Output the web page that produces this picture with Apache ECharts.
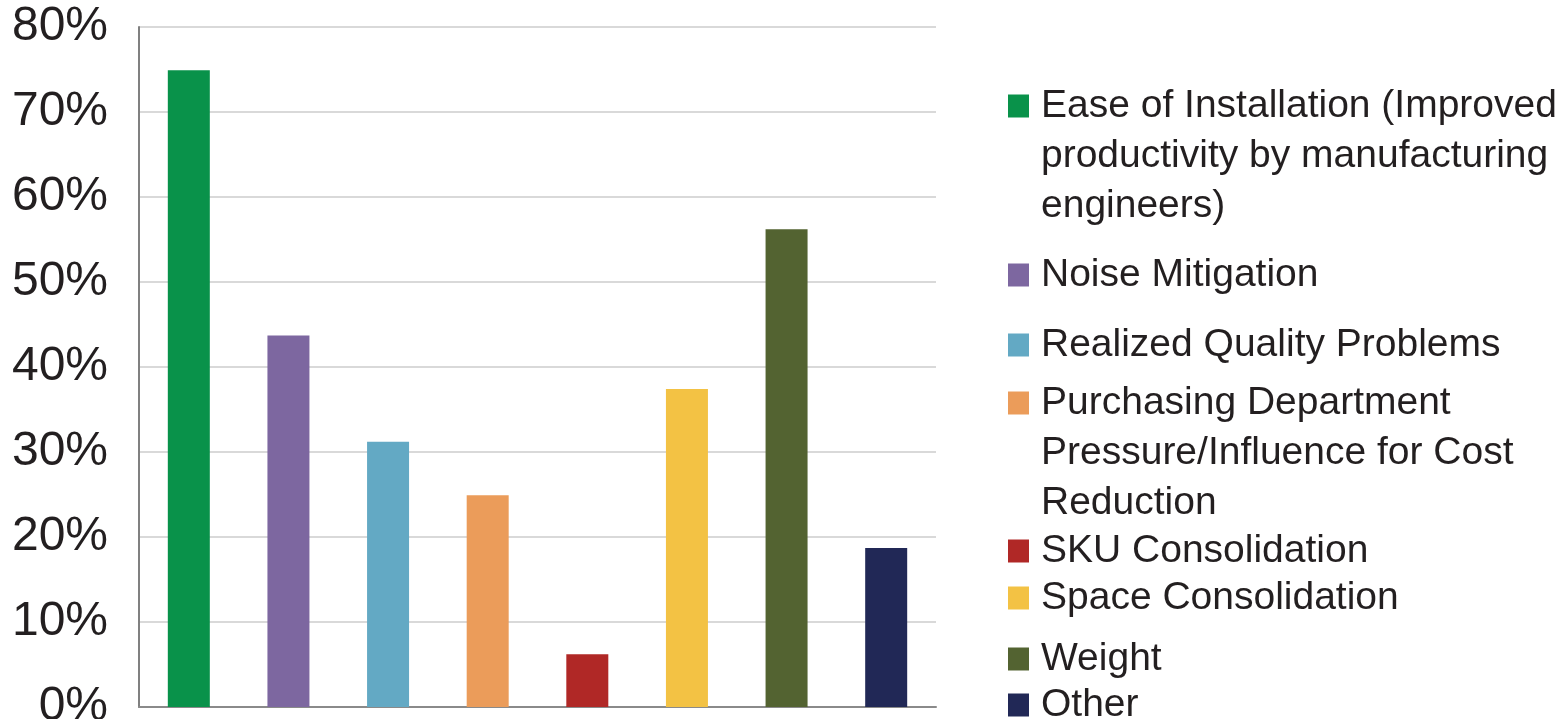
<!DOCTYPE html>
<html>
<head>
<meta charset="utf-8">
<script src="https://cdn.jsdelivr.net/npm/echarts@6/dist/echarts.min.js"></script>
<style>
  html, body { margin: 0; padding: 0; background: #fff; }
  #chart { width: 1561px; height: 719px; }
</style>
</head>
<body>
<div id="chart"></div>
<script>
// categories (legend names) and their values in percent
const names = [
  'Ease of Installation (Improved productivity by manufacturing engineers)',
  'Noise Mitigation',
  'Realized Quality Problems',
  'Purchasing Department Pressure/Influence for Cost Reduction',
  'SKU Consolidation',
  'Space Consolidation',
  'Weight',
  'Other'
];
const values = [74.9, 43.7, 31.2, 24.9, 6.2, 37.4, 56.2, 18.7];
const colors = ['#09924a', '#7d67a0', '#63a9c4', '#eb9c5a', '#b02826', '#f3c244', '#536331', '#212856'];
// legend text as it wraps in the picture
const legendLines = [
  ['Ease of Installation (Improved', 'productivity by manufacturing', 'engineers)'],
  ['Noise Mitigation'],
  ['Realized Quality Problems'],
  ['Purchasing Department', 'Pressure/Influence for Cost', 'Reduction'],
  ['SKU Consolidation'],
  ['Space Consolidation'],
  ['Weight'],
  ['Other']
];
// vertical centre of each legend marker
const legendY = [106, 275, 345, 403, 551, 598, 659, 705];

const chart = echarts.init(document.getElementById('chart'));
const lineH = 50;
const font = 'Liberation Sans, Arial, sans-serif';

const legends = names.map(function (n, i) {
  const lines = legendLines[i];
  // blank lines in front so the marker sits beside the first line
  const blanks = new Array(lines.length - 1).fill('');
  const total = lines.length * 2 - 1;
  return {
    data: [n],
    orient: 'vertical',
    left: 1008,
    top: legendY[i] - total * lineH / 2,
    padding: 0,
    icon: 'rect',
    itemWidth: 21,
    itemHeight: 23,
    selectedMode: false,
    formatter: function () { return blanks.concat(lines).join('\n'); },
    textStyle: {
      fontFamily: font,
      fontSize: 39,
      lineHeight: lineH,
      color: '#231f20',
      padding: [0, 0, 0, 7]
    }
  };
});

const series = names.map(function (n, i) {
  return {
    name: n,
    type: 'bar',
    stack: 'all',
    barWidth: 42,
    itemStyle: { color: colors[i] },
    data: values.map(function (v, j) { return j === i ? v : null; })
  };
});

chart.setOption({
  animation: false,
  legend: legends,
  grid: { left: 139, right: 625, top: 27, bottom: 12, containLabel: false, outerBoundsMode: 'none' },
  xAxis: {
    type: 'category',
    data: names,
    axisLine: { lineStyle: { color: '#8a8a8a', width: 2 } },
    axisTick: { show: false },
    axisLabel: { show: false }
  },
  yAxis: {
    type: 'value',
    min: 0,
    max: 80,
    interval: 10,
    axisLine: { show: true, lineStyle: { color: '#808080', width: 2 } },
    axisTick: { show: false },
    splitLine: { lineStyle: { color: '#d9d9d9', width: 2 } },
    axisLabel: {
      formatter: '{value}%',
      fontFamily: font,
      fontSize: 48,
      color: '#231f20',
      margin: 31
    }
  },
  series: series
});
</script>
</body>
</html>
